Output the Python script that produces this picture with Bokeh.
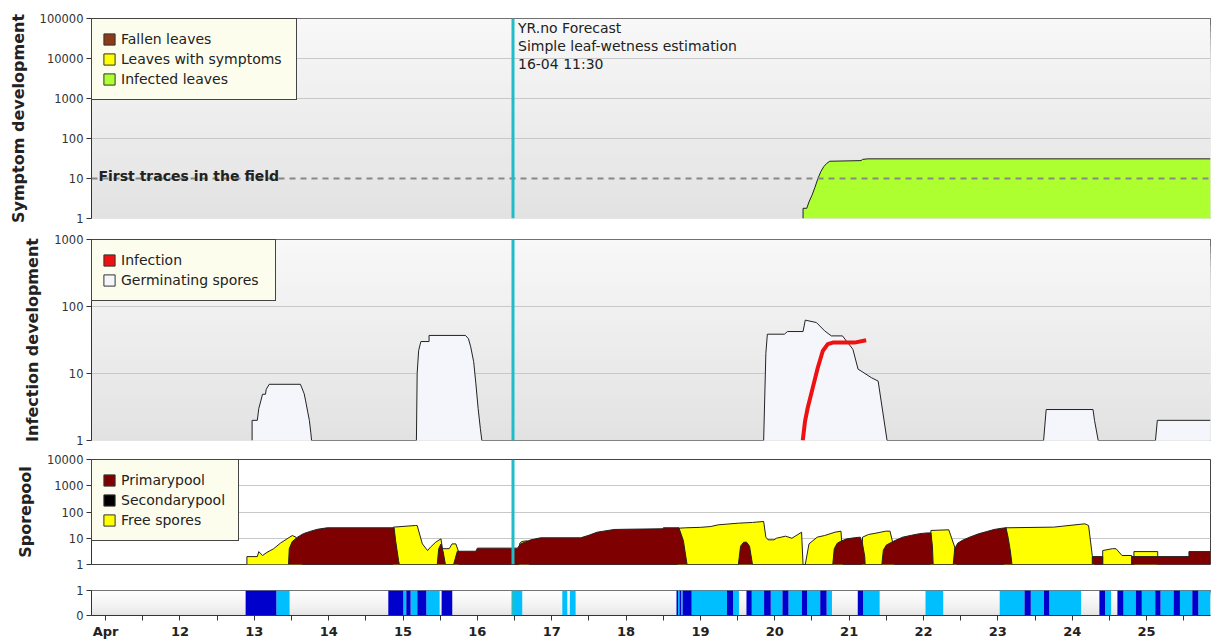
from bokeh.plotting import figure
from bokeh.layouts import column
from bokeh.models import Range1d, FixedTicker, Span, Label, Legend, LegendItem, BoxAnnotation
from bokeh.embed import file_html
from bokeh.resources import INLINE

# ---------------- data ----------------
X_START, X_END = 10.81, 25.86          # days of April
NOW = 16.479                            # 16-04 11:30

day_ticks = list(range(11, 26))
day_labels = ["Apr"] + [str(d) for d in range(12, 26)]
half_day_ticks = [d + 0.5 for d in range(11, 26)]

sym_ticks = [1, 10, 100, 1000, 10000, 100000]
sym_labels = ["1", "10", "100", "1000", "10000", "100000"]
sym_grid = [100, 1000, 10000]
inf_ticks = [1, 10, 100, 1000]
inf_labels = ["1", "10", "100", "1000"]
inf_grid = [10, 100]
spore_ticks = [1, 10, 100, 1000, 10000]
spore_labels = ["1", "10", "100", "1000", "10000"]
spore_grid = [10, 100, 1000]
wet_ticks = [0, 1]
wet_labels = ["0", "1"]

first_traces_level = 10

# Symptom development: infected leaves
infected_day = [20.38, 20.38, 20.43, 20.46, 20.50, 20.54, 20.58, 20.62, 20.66, 20.70, 20.74,
                21.16, 21.18, 21.25, 25.86]
infected_val = [1, 1.8, 1.8, 2.6, 3.8, 6.0, 10, 15, 20, 24, 27, 28, 30, 31, 31]

# Infection development: germinating spores
germ_day = [12.97, 12.97, 13.04, 13.06, 13.09, 13.11, 13.15, 13.16, 13.20, 13.62, 13.67, 13.69, 13.72, 13.74, 13.76, 13.77,
            15.18, 15.19, 15.21, 15.24, 15.35, 15.35, 15.84, 15.88, 15.91, 15.95, 15.98, 16.01, 16.04, 16.06,
            19.85, 19.88, 19.90, 20.13, 20.17, 20.38, 20.41, 20.56, 20.67, 20.76, 20.91, 21.05, 21.12, 21.16,
            21.30, 21.39, 21.43, 21.51,
            23.615, 23.65, 24.28, 24.30, 24.35,
            25.12, 25.145, 25.86]
germ_val = [1, 2.0, 2.0, 3.0, 4.0, 4.9, 4.9, 5.8, 6.9, 6.9, 5.0, 3.9, 2.6, 2.0, 1.3, 1,
            1, 10, 22, 30, 30, 37, 37, 33, 25, 15, 7, 3, 1.5, 1,
            1, 20, 38.6, 38.6, 42.3, 42.3, 62.6, 57.6, 43.3, 36.4, 36.4, 23, 11.6, 10.9,
            8.65, 7.7, 3.9, 1,
            1, 2.9, 2.9, 2.0, 1,
            1, 2.0, 2.0]

# Infection development: infection
infection_day = [20.376, 20.407, 20.443, 20.51, 20.578, 20.645, 20.712, 20.78, 21.071, 21.229]
infection_val = [1, 1.95, 3.08, 6.1, 12.2, 21.7, 27.4, 28.9, 28.9, 31.4]

# Sporepool: free spores
free_day = [12.90, 12.90, 13.04, 13.06, 13.11, 13.17, 13.26, 13.35, 13.44, 13.51, 13.56, 13.62, 13.65,
            14.86, 14.87, 15.17, 15.19, 15.26, 15.33, 15.37, 15.44, 15.51, 15.53, 15.62, 15.66, 15.71, 15.75, 15.75,
            16.56, 16.57, 16.60, 16.66, 16.69, 16.70,
            18.69, 18.69, 18.80, 19.00, 19.14, 19.24, 19.51, 19.70, 19.85, 19.88, 19.91, 19.99, 20.02, 20.145,
            20.23, 20.36, 20.38,
            20.41, 20.46, 20.57, 20.67, 20.81, 20.89, 20.92,
            21.17, 21.18, 21.26, 21.36, 21.49, 21.55, 21.60, 21.61,
            22.09, 22.10, 22.34, 22.42, 22.45,
            23.08, 23.10, 23.75, 24.17, 24.22, 24.27, 24.30,
            24.41, 24.41, 24.54, 24.59, 24.67, 24.80, 24.80,
            24.83, 24.83, 25.15, 25.15]
free_val = [1, 2.0, 2.0, 3.1, 2.2, 2.9, 4.0, 6.5, 9.5, 12.7, 11, 5, 1,
            1, 26.5, 30.6, 30.6, 6.1, 3.4, 4.6, 7.1, 9.5, 4.0, 4.0, 6.1, 6.1, 2.9, 1,
            1, 6.5, 7.5, 8, 7.5, 1,
            1, 24, 25, 26, 28, 32.5, 37.5, 40, 43.6, 11, 8.7, 8.7, 10, 12,
            10, 17, 1,
            1, 6.1, 11, 12.7, 17, 18.6, 1,
            1, 11, 13.9, 15.6, 18.6, 18.6, 4.6, 1,
            1, 19.8, 21, 4.6, 1,
            1, 25, 26.5, 35.5, 30.6, 2.2, 1,
            1, 3.4, 4.0, 4.0, 2.2, 2.2, 1,
            1, 3.1, 3.1, 1]

# Sporepool: primary pool
primary_day = [13.46, 13.47, 13.51, 13.58, 13.66, 13.76, 13.85, 13.98, 14.88, 14.90, 14.94, 14.95,
               15.46, 15.48, 15.51, 15.54, 15.57,
               15.68, 15.73, 15.98, 16.00, 16.54, 16.58, 16.72, 16.85, 17.39, 17.50, 17.61, 17.84, 18.00,
               18.50, 18.50, 18.71, 18.77, 18.82,
               19.51, 19.54, 19.58, 19.62, 19.66, 19.70,
               20.78, 20.80, 20.84, 20.90, 20.97, 21.08, 21.15, 21.18, 21.21, 21.215,
               21.44, 21.46, 21.50, 21.57, 21.63, 21.72, 21.84, 21.95, 22.05, 22.10, 22.12, 22.13,
               22.40, 22.42, 22.46, 22.53, 22.62, 22.74, 22.85, 22.95, 23.05, 23.11, 23.14, 23.17, 23.19,
               24.27, 24.27, 24.41, 24.41,
               24.80, 24.80, 25.57, 25.57, 25.86]
primary_val = [1, 4, 7.5, 11, 15, 18.6, 22, 25, 25, 8.2, 1.4, 1,
               1, 4, 6, 3, 1,
               1, 3.2, 3.2, 4.2, 4.2, 6.1, 8.7, 10.4, 10.4, 13, 17, 21.6, 22,
               23, 25, 25, 8.2, 1,
               1, 5, 7, 7.1, 5, 1,
               1, 4, 6.5, 8, 9.5, 10.5, 11, 6, 2, 1,
               1, 3.5, 5.5, 7, 8.5, 11, 13, 15, 16, 16, 5, 1,
               1, 4, 6.5, 8.5, 11, 14.7, 18, 21.6, 24, 25, 10, 3, 1,
               1, 2.0, 2.0, 1,
               1, 2.0, 2.0, 3.1, 3.1]

# Leaf wetness strip
wet_dark_start = [12.883, 14.802, 15.044, 15.192, 15.519, 18.678, 18.719, 18.760, 19.357, 19.619, 19.856,
                  20.103, 20.364, 20.611, 21.116, 23.359, 23.620, 24.366, 24.608, 24.856, 25.117, 25.364, 25.615]
wet_dark_end = [13.296, 15.004, 15.102, 15.313, 15.662, 18.699, 18.739, 18.882, 19.438, 19.690, 19.946,
                20.184, 20.435, 20.697, 21.187, 23.443, 23.691, 24.441, 24.689, 24.936, 25.188, 25.449, 25.696]
wet_light_start = [13.296, 15.004, 15.102, 15.313, 16.469, 17.142, 17.244, 18.699, 18.739, 18.882, 19.438,
                   19.690, 19.946, 20.184, 20.435, 20.697, 21.187, 22.027, 23.025, 23.443, 23.691, 24.441,
                   24.689, 24.936, 25.188, 25.449, 25.696]
wet_light_end = [13.474, 15.044, 15.192, 15.492, 16.603, 17.209, 17.321, 18.719, 18.760, 19.357, 19.518,
                 19.856, 20.103, 20.364, 20.611, 20.769, 21.410, 22.265, 23.359, 23.620, 24.119, 24.522,
                 24.856, 25.117, 25.364, 25.615, 25.86]

# ---------------- styling helpers ----------------
FONT = "DejaVu Sans"
CYAN = "#20bcc8"
xr = Range1d(X_START, X_END)


def hexmix(c1, c2, f):
    a = [int(c1[i:i + 2], 16) for i in (1, 3, 5)]
    b = [int(c2[i:i + 2], 16) for i in (1, 3, 5)]
    return "#%02x%02x%02x" % tuple(int(round(a[k] + (b[k] - a[k]) * f)) for k in range(3))


def add_gradient(p, lo, hi, log, c_top, c_bottom, n=30, gamma=1.0):
    for i in range(n, 0, -1):
        f = i / n
        top = lo + (hi - lo) * f
        col = hexmix(c_bottom, c_top, ((i - 0.5) / n) ** gamma)
        t = 10 ** top if log else top
        b = 10 ** lo if log else lo
        p.add_layout(BoxAnnotation(bottom=b, top=t, fill_color=col, fill_alpha=1.0,
                                   line_color=None, level="image"))


def make_fig(fh, yr, log, top, bottom, ticks, labels, grid_ticks, title, xaxis=False):
    p = figure(frame_width=1119, frame_height=fh, x_range=xr, y_range=yr,
               y_axis_type="log" if log else "linear",
               x_axis_location="below" if xaxis else None,
               toolbar_location=None, output_backend="svg",
               min_border_left=91, min_border_right=4,
               min_border_top=top, min_border_bottom=bottom,
               background_fill_color="#ffffff", border_fill_color="#ffffff")
    p.outline_line_color = "#444444"
    p.outline_line_width = 1
    p.xgrid.grid_line_color = None
    ax = p.yaxis[0]
    ax.ticker = FixedTicker(ticks=ticks)
    ax.major_label_overrides = {t: l for t, l in zip(ticks, labels)}
    ax.minor_tick_line_color = None
    ax.major_tick_out = 5
    ax.major_tick_in = 0
    ax.major_tick_line_color = "#333333"
    ax.axis_line_color = "#333333"
    ax.major_label_text_font = FONT
    ax.major_label_text_font_size = "11.5px"
    ax.major_label_text_color = "#333333"
    ax.major_label_standoff = 3
    if title:
        ax.axis_label = title
        ax.axis_label_text_font = FONT
        ax.axis_label_text_font_style = "bold"
        ax.axis_label_text_font_size = "16px"
        ax.axis_label_text_color = "#222222"
        ax.axis_label_standoff = 9
    g = p.ygrid[0]
    if grid_ticks:
        g.ticker = FixedTicker(ticks=grid_ticks)
        g.grid_line_color = "#c8c8c8"
        g.grid_line_width = 1
    else:
        g.grid_line_color = None
    return p


def add_legend(p, names, colors, label_width):
    # legend swatches: off-range dummy quads, so only their legend glyph shows
    items = []
    for n, c in zip(names, colors):
        r = p.quad(left=[X_START - 3], right=[X_START - 2], top=[2], bottom=[1],
                   fill_color=c, line_color="#333333", line_width=1)
        items.append(LegendItem(label=n, renderers=[r]))
    lg = Legend(items=items, location="top_left", margin=0, padding=10, spacing=0,
                label_height=20, glyph_height=14, glyph_width=14, label_standoff=5,
                label_width=label_width, background_fill_color="#fdfdee", background_fill_alpha=1.0,
                border_line_color="#444444", border_line_width=1, border_line_alpha=1.0,
                label_text_font=FONT, label_text_font_size="14px", label_text_color="#222222")
    p.add_layout(lg)


def now_line(p):
    p.add_layout(Span(location=NOW, dimension="height", line_color=CYAN, line_width=3))


# ---------------- panel 1: symptom development ----------------
p1 = make_fig(200, Range1d(1, 100000), True, 18, 10, sym_ticks, sym_labels, sym_grid, "Symptom development")
add_gradient(p1, 0, 5, True, "#f8f8f8", "#e2e2e2")
p1.varea(x=infected_day, y1=1, y2=infected_val, fill_color="#adff2f", fill_alpha=1.0)
p1.line(infected_day, infected_val, line_color="#222222", line_width=1)
p1.add_layout(Span(location=first_traces_level, dimension="width", line_color="#888888",
                   line_width=2, line_dash="6 5"))
p1.add_layout(Label(x=X_START, y=first_traces_level, x_offset=7, y_offset=3, text="First traces in the field",
                    text_baseline="alphabetic", text_font=FONT, text_font_style="bold",
                    text_font_size="14px", text_color="#222222"))
for k, txt in enumerate(["YR.no Forecast", "Simple leaf-wetness estimation", "16-04 11:30"]):
    p1.add_layout(Label(x=NOW, y=100000, x_offset=5, y_offset=-9 - 18 * k, text=txt,
                        text_baseline="middle", text_font=FONT, text_font_size="14px",
                        text_color="#222222"))
add_legend(p1, ["Fallen leaves", "Leaves with symptoms", "Infected leaves"],
           ["#8b3a1a", "#ffff00", "#adff2f"], 165)
now_line(p1)

# ---------------- panel 2: infection development ----------------
p2 = make_fig(201, Range1d(1, 1000), True, 11, 9, inf_ticks, inf_labels, inf_grid, "Infection development")
add_gradient(p2, 0, 3, True, "#f8f8f8", "#e2e2e2")
p2.varea(x=germ_day, y1=1, y2=germ_val, fill_color="#f5f6fb", fill_alpha=1.0)
p2.line(germ_day, germ_val, line_color="#222222", line_width=1)
p2.line(infection_day, infection_val, line_color="#ee1111", line_width=4, line_join="round")
add_legend(p2, ["Infection", "Germinating spores"], ["#ee1111", "#f5f6fb"], 144)
now_line(p2)

# ---------------- panel 3: sporepool ----------------
p3 = make_fig(105, Range1d(1, 10000), True, 10, 13, spore_ticks, spore_labels, spore_grid, "Sporepool")
p3.varea(x=free_day, y1=1, y2=free_val, fill_color="#ffff00", fill_alpha=1.0)
p3.line(free_day, free_val, line_color="#222222", line_width=1)
p3.varea(x=primary_day, y1=1, y2=primary_val, fill_color="#7f0000", fill_alpha=1.0)
p3.line(primary_day, primary_val, line_color="#222222", line_width=1)
add_legend(p3, ["Primarypool", "Secondarypool", "Free spores"], ["#7f0000", "#000000", "#ffff00"], 107)
now_line(p3)

# ---------------- panel 4: leaf wetness strip ----------------
p4 = make_fig(25, Range1d(0, 1), False, 13, 24, wet_ticks, wet_labels, None, None, xaxis=True)
add_gradient(p4, 0, 1, False, "#ffffff", "#dcdcdc", gamma=0.5)
p4.quad(left=wet_light_start, right=wet_light_end, bottom=0, top=1, fill_color="#00bfff",
        line_color=None)
p4.quad(left=wet_dark_start, right=wet_dark_end, bottom=0, top=1, fill_color="#0000cc",
        line_color=None)
now_line(p4)
xa = p4.xaxis[0]
xa.ticker = FixedTicker(ticks=day_ticks, minor_ticks=half_day_ticks)
xa.major_label_overrides = {t: l for t, l in zip(day_ticks, day_labels)}
xa.major_label_text_font = FONT
xa.major_label_text_font_style = "bold"
xa.major_label_text_font_size = "13px"
xa.major_label_text_color = "#222222"
xa.major_tick_out = 5
xa.major_tick_in = 0
xa.minor_tick_out = 5
xa.minor_tick_in = 0
xa.major_tick_line_color = "#333333"
xa.minor_tick_line_color = "#333333"
xa.axis_line_color = "#333333"
xa.major_label_standoff = 3

layout = column(p1, p2, p3, p4)
open("out.html", "w").write(file_html(layout, INLINE))
